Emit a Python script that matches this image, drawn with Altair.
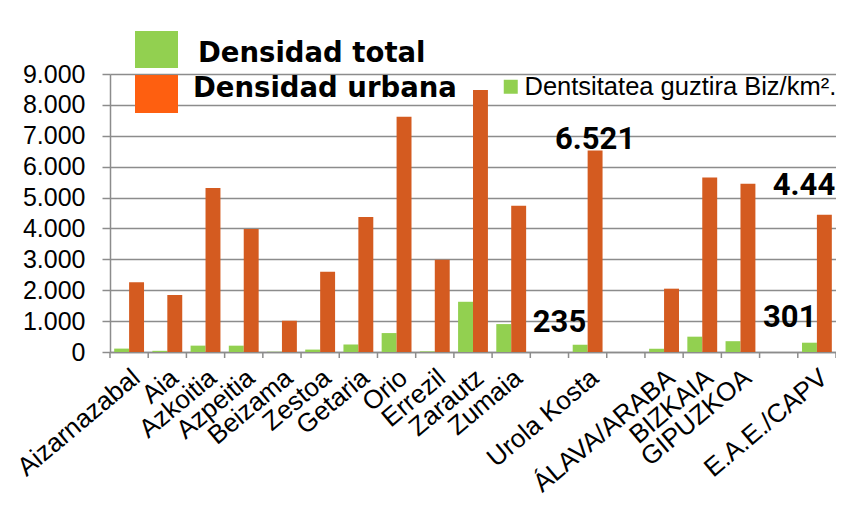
import altair as alt
import pandas as pd

# ---- data -------------------------------------------------------------
categories = ["Aizarnazabal", "Aia", "Azkoitia", "Azpeitia", "Beizama", "Zestoa",
              "Getaria", "Orio", "Errezil", "Zarautz", "Zumaia", " ", "Urola Kosta",
              "  ", "ÁLAVA/ARABA", "BIZKAIA", "GIPUZKOA", "   ", "E.A.E./CAPV"]
dens_total = [110, 38, 206, 205, 9, 78, 239, 613, 20, 1626, 904, None, 235,
              None, 105, 496, 350, None, 301]
dens_urbana = [2255, 1845, 5307, 3980, 1014, 2600, 4369, 7616, 2988, 8479, 4736, None, 6521,
               None, 2050, 5653, 5448, None, 4440]
series_names = ["Dentsitatea guztira Biz/km².", "Densidad urbana"]
y_ticks = [0, 1000, 2000, 3000, 4000, 5000, 6000, 7000, 8000, 9000]

label_cats = ["Urola Kosta", "Urola Kosta", "E.A.E./CAPV", "E.A.E./CAPV"]
label_series = [series_names[1], series_names[0], series_names[1], series_names[0]]
label_vals = [6521, 235, 4440, 301]
label_texts = ["6.521", "235", "4.440", "301"]

legend_big = ["Densidad total", "Densidad urbana"]

# ---- tables -----------------------------------------------------------
rows = []
for c, t, u in zip(categories, dens_total, dens_urbana):
    if t is not None:
        rows.append({"cat": c, "serie": series_names[0], "val": t})
    if u is not None:
        rows.append({"cat": c, "serie": series_names[1], "val": u})
df = pd.DataFrame(rows)
ticks_df = pd.DataFrame({"cat": categories})
labels_df = pd.DataFrame({"cat": label_cats, "serie": label_series,
                          "val": label_vals, "txt": label_texts})

GREEN = "#92d050"
ORANGE = "#d45b20"
ORANGE_LEG = "#fe5f10"
GRAY = "#8c8c8c"

x_axis = alt.Axis(title=None, ticks=False, domainColor=GRAY, domainWidth=1.5,
                  labelAngle=-40, labelAlign="right", labelBaseline="top",
                  labelPadding=12, labelOffset=-1, labelFont="Liberation Sans",
                  labelFontSize=26, labelColor="black", grid=False, labelOverlap=False)
x_scale = alt.Scale(domain=categories, paddingInner=0, paddingOuter=0, round=False)
xo_scale = alt.Scale(domain=series_names, paddingInner=0, paddingOuter=0.28, round=False)
y_axis = alt.Axis(title=None, values=y_ticks, grid=True, gridColor=GRAY, gridWidth=1.5,
                  tickColor=GRAY, tickWidth=1.5, tickSize=8, domainColor=GRAY,
                  domainWidth=1.5, labelFont="Liberation Sans", labelFontSize=25,
                  labelColor="black", labelPadding=17,
                  labelExpr="replace(format(datum.value, ','), ',', '.')")
y_scale = alt.Scale(domain=[0, 9000], nice=False)


def X(**kw):
    return alt.X("cat:N", scale=x_scale, axis=x_axis, **kw)


def XO():
    return alt.XOffset("serie:N", scale=xo_scale)


def Y():
    return alt.Y("val:Q", scale=y_scale, axis=y_axis)


one = alt.Data(values=[{}])

bars = alt.Chart(df).mark_bar().encode(
    x=X(), xOffset=XO(), y=Y(),
    color=alt.Color("serie:N",
                    scale=alt.Scale(domain=series_names, range=[GREEN, ORANGE]),
                    legend=alt.Legend(title=None, values=[series_names[0]], orient="none",
                                      legendX=388, legendY=0, symbolType="square",
                                      symbolSize=196, symbolStrokeWidth=0,
                                      labelFont="Liberation Sans", labelFontSize=25.5,
                                      labelColor="black", padding=0, labelOffset=1,
                                      labelLimit=600)))

ticks = alt.Chart(ticks_df).mark_rule(color=GRAY, strokeWidth=1.5).encode(
    x=X(bandPosition=0), y=alt.value(278), y2=alt.value(284))
last_tick = alt.Chart(ticks_df).transform_filter(
    alt.datum.cat == categories[-1]).mark_rule(color=GRAY, strokeWidth=1.5).encode(
    x=X(bandPosition=1), y=alt.value(278), y2=alt.value(284))

lab_font = dict(font="Roboto", fontWeight="bold", fontSize=31, color="black")
lab1 = alt.Chart(labels_df).transform_filter(alt.datum.txt == label_texts[0]).mark_text(
    align="center", baseline="alphabetic", dy=-2, **lab_font).encode(
    x=X(), xOffset=XO(), y=Y(), text="txt:N")
lab2 = alt.Chart(labels_df).transform_filter(alt.datum.txt == label_texts[1]).mark_text(
    align="right", baseline="alphabetic", dx=6, dy=-13, **lab_font).encode(
    x=X(), xOffset=XO(), y=Y(), text="txt:N")
lab3 = alt.Chart(labels_df).transform_filter(alt.datum.txt == label_texts[2]).mark_text(
    align="center", baseline="alphabetic", dx=-4, dy=-20, **lab_font).encode(
    x=X(), y=Y(), text="txt:N")
lab4 = alt.Chart(labels_df).transform_filter(alt.datum.txt == label_texts[3]).mark_text(
    align="right", baseline="alphabetic", dx=7, dy=-16, **lab_font).encode(
    x=X(), xOffset=XO(), y=Y(), text="txt:N")

sq1 = alt.Chart(one).mark_rect(color=GREEN).encode(
    x=alt.value(25), x2=alt.value(68), y=alt.value(-43), y2=alt.value(-6))
sq2 = alt.Chart(one).mark_rect(color=ORANGE_LEG).encode(
    x=alt.value(25), x2=alt.value(68), y=alt.value(1), y2=alt.value(39))
big_font = dict(font="DejaVu Sans", fontWeight="bold", fontSize=27.5, color="black",
                align="left", baseline="alphabetic")
t1 = alt.Chart(one).mark_text(text=legend_big[0], **big_font).encode(
    x=alt.value(88), y=alt.value(-12))
t2 = alt.Chart(one).mark_text(text=legend_big[1], **big_font).encode(
    x=alt.value(83), y=alt.value(23))

chart = alt.layer(bars, ticks, last_tick, lab1, lab2, lab3, lab4,
                  sq1, sq2, t1, t2).properties(
    width=726, height=278,
    padding={"left": 102, "top": 66, "right": 0, "bottom": 148},
    autosize=alt.AutoSizeParams(type="none"),
    background="white",
).configure_view(stroke=None)

chart.save("out.html", embed_options={"renderer": "svg", "actions": False})
